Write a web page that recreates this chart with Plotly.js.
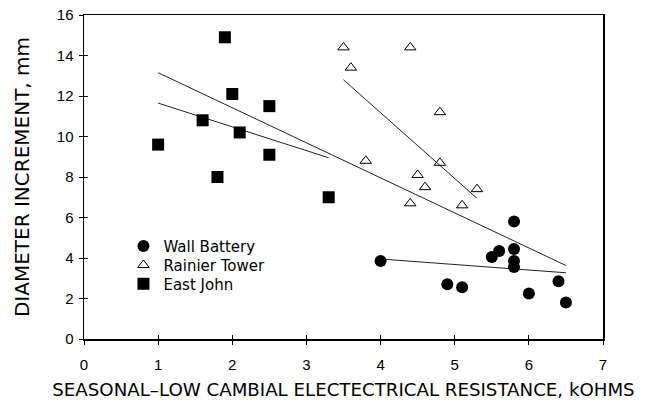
<!DOCTYPE html>
<html>
<head>
<meta charset="utf-8">
<script src="https://cdn.plot.ly/plotly-3.0.1.min.js"></script>
<style>
html,body{margin:0;padding:0;background:#fff;}
#chart{width:649px;height:401px;}
</style>
</head>
<body>
<div id="chart"></div>
<script>
// ---- data ----
var wallX = [4.0, 4.9, 5.1, 5.5, 5.6, 5.8, 5.8, 5.8, 5.8, 6.0, 6.4, 6.5];
var wallY = [3.85, 2.7, 2.55, 4.05, 4.35, 5.8, 4.45, 3.85, 3.55, 2.25, 2.85, 1.8];

var rainierX = [3.5, 3.6, 3.8, 4.4, 4.4, 4.5, 4.6, 4.8, 4.8, 5.1, 5.3];
var rainierY = [14.4, 13.4, 8.8, 14.4, 6.7, 8.1, 7.5, 11.2, 8.7, 6.6, 7.4];

var eastX = [1.0, 1.6, 1.8, 1.9, 2.0, 2.1, 2.5, 2.5, 3.3];
var eastY = [9.6, 10.8, 8.0, 14.9, 12.1, 10.2, 11.5, 9.1, 7.0];

// regression lines (end points)
var allFitX = [1.0, 6.5];
var allFitY = [13.15, 3.63];
var eastFitX = [1.0, 3.3];
var eastFitY = [11.65, 8.95];
var rainierFitX = [3.5, 5.3];
var rainierFitY = [12.8, 6.95];
var wallFitX = [4.0, 6.5];
var wallFitY = [3.95, 3.27];

var xTicks = [0, 1, 2, 3, 4, 5, 6, 7];
var yTicks = [0, 2, 4, 6, 8, 10, 12, 14, 16];

var TICKFONT = "Liberation Sans, Arial, sans-serif";
var FONT = "DejaVu Sans, sans-serif";
var lineStyle = {color: '#222', width: 1};

var traces = [
  {x: allFitX, y: allFitY, mode: 'lines', line: lineStyle, showlegend: false, hoverinfo: 'skip'},
  {x: eastFitX, y: eastFitY, mode: 'lines', line: lineStyle, showlegend: false, hoverinfo: 'skip'},
  {x: rainierFitX, y: rainierFitY, mode: 'lines', line: lineStyle, showlegend: false, hoverinfo: 'skip'},
  {x: wallFitX, y: wallFitY, mode: 'lines', line: lineStyle, showlegend: false, hoverinfo: 'skip'},
  {x: wallX, y: wallY, mode: 'markers', name: 'Wall Battery', legend: 'legend',
   marker: {symbol: 'circle', size: 12, color: '#000'}},
  {x: rainierX, y: rainierY, mode: 'markers', name: 'Rainier Tower', legend: 'legend2',
   marker: {symbol: 'triangle-up-open', size: 10, color: '#000', line: {width: 1, color: '#000'}}},
  {x: eastX, y: eastY, mode: 'markers', name: 'East John', legend: 'legend3',
   marker: {symbol: 'square', size: 12, color: '#000'}},
  {x: [], y: [], xaxis: 'x2', yaxis: 'y2', showlegend: false, hoverinfo: 'skip'}
];

function legendAt(yPos) {
  return {x: 0.076, y: yPos, xanchor: 'left', yanchor: 'top',
          bgcolor: 'rgba(0,0,0,0)', font: {family: FONT, size: 15, color: '#000'}};
}

var layout = {
  width: 649, height: 401,
  margin: {l: 84, r: 46, t: 15, b: 62},
  paper_bgcolor: '#fff', plot_bgcolor: '#fff',
  font: {family: FONT, color: '#000', size: 15},
  showlegend: true,
  legend: legendAt(0.337),
  legend2: legendAt(0.2786),
  legend3: legendAt(0.2210),
  xaxis: {range: [0, 7], tickvals: xTicks, ticktext: xTicks.map(String),
          showgrid: false, zeroline: false, showline: true, linecolor: '#000', linewidth: 1.5,
          mirror: true, ticks: 'outside', ticklen: 4, tickwidth: 1, tickcolor: '#000',
          tickfont: {family: TICKFONT, size: 15}, ticklabelstandoff: 7,
          title: {text: 'SEASONAL\u2013LOW CAMBIAL ELECTECTRICAL RESISTANCE, kOHMS',
                  font: {family: FONT, size: 18.2}, standoff: 12}},
  yaxis: {range: [0, 16], tickvals: yTicks, ticktext: yTicks.map(String),
          showgrid: false, zeroline: false, showline: true, linecolor: '#000', linewidth: 1.5,
          mirror: true, ticks: 'outside', ticklen: 4, tickwidth: 1, tickcolor: '#000',
          tickfont: {family: TICKFONT, size: 15}, ticklabelstandoff: 2,
          title: {text: 'DIAMETER INCREMENT, mm', font: {family: FONT, size: 20}, standoff: 22}},
  xaxis2: {overlaying: 'x', matches: 'x', anchor: 'y2', range: [0, 7], tickvals: xTicks,
           showticklabels: false, showgrid: false, zeroline: false, showline: false,
           ticks: 'inside', ticklen: 4, tickwidth: 1, tickcolor: '#000', side: 'bottom'},
  yaxis2: {overlaying: 'y', matches: 'y', anchor: 'x2', range: [0, 16], tickvals: yTicks,
           showticklabels: false, showgrid: false, zeroline: false, showline: false,
           ticks: 'inside', ticklen: 4, tickwidth: 1, tickcolor: '#000', side: 'left'}
};

Plotly.newPlot('chart', traces, layout, {staticPlot: true, displayModeBar: false});
</script>
</body>
</html>
